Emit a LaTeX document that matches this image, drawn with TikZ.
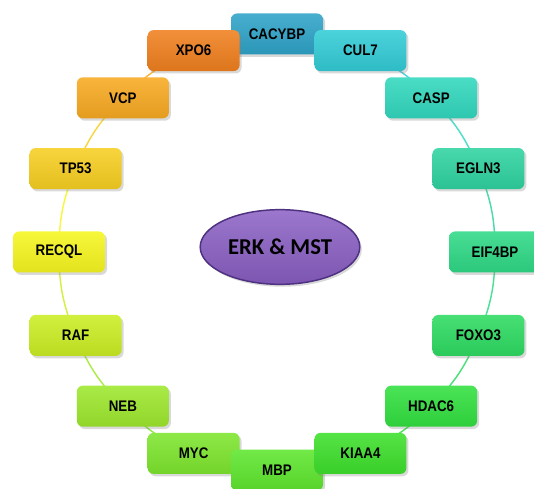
\documentclass[tikz,border=0pt]{standalone}
\usepackage{fontspec}
\setmainfont{Liberation Sans}
\newfontfamily\genefont[FakeStretch=0.87]{Liberation Sans}
\newfontfamily\hubfont{Carlito}
\usetikzlibrary{shapes.geometric,shadows,backgrounds}

\definecolor{cCACYBP}{HTML}{2FA3C8}
\definecolor{cXPO6}{HTML}{F0801F}
\definecolor{cVCP}{HTML}{F8AA22}
\definecolor{cTP53}{HTML}{F7CF22}
\definecolor{cRECQL}{HTML}{F6F620}
\definecolor{cRAF}{HTML}{CBEE24}
\definecolor{cNEB}{HTML}{9EE82E}
\definecolor{cMYC}{HTML}{7EE62E}
\definecolor{cMBP}{HTML}{5EE62E}
\definecolor{cKIAA4}{HTML}{3EE02C}
\definecolor{cHDAC6}{HTML}{32E040}
\definecolor{cFOXO3}{HTML}{2EDB62}
\definecolor{cEIF4BP}{HTML}{2FD986}
\definecolor{cEGLN3}{HTML}{2FD3A0}
\definecolor{cCASP}{HTML}{32D8BE}
\definecolor{cCUL7}{HTML}{33CCD6}
\definecolor{hubfill}{HTML}{8A5FC4}
\definecolor{hubline}{HTML}{4E3180}

\begin{document}
\begin{tikzpicture}[
    x=0.75pt, y=0.75pt,                      % 1 unit = 1 px of the 534x488 frame
    gene/.style={rectangle, rounded corners=4.5pt, minimum width=69pt, minimum height=30.75pt,
      top color=#1!88!white, bottom color=#1!92!black, draw=none,
      drop shadow={shadow xshift=1.5pt, shadow yshift=-1.8pt, opacity=0.3},
      font=\genefont\bfseries\fontsize{11.5}{13}\selectfont},
    hub/.style={ellipse, minimum width=117pt, minimum height=56pt, draw=hubline, line width=1.1pt,
      top color=hubfill!85!white, bottom color=hubfill!90!black,
      drop shadow={shadow xshift=1.5pt, shadow yshift=-1.8pt, opacity=0.3},
      font=\hubfont\bfseries\fontsize{17}{20}\selectfont},
    ring/.style={line width=1.1pt, #1!85!white},
  ]

  \useasboundingbox (0,0) rectangle (534,488);

  \begin{scope}[shift={(277,236)}]
    % ---------- gene boxes, 22.5 deg apart, counter-clockwise from the top ----------
    \foreach \i/\g in {0/CACYBP, 1/XPO6, 2/VCP, 3/TP53, 4/RECQL, 5/RAF, 6/NEB, 7/MYC,
                       8/MBP, 9/KIAA4, 10/HDAC6, 11/FOXO3, 12/EIF4BP, 13/EGLN3, 14/CASP, 15/CUL7}
      \node[gene=c\g] (\g) at ({90+22.5*\i}:218) {\g};

    % ---------- hub ----------
    \node[hub] (hub) at (3,5) {ERK \& MST};

    % ---------- ring segments (behind the boxes) ----------
    \begin{scope}[on background layer]
      \foreach \a/\b in {CACYBP/XPO6, XPO6/VCP, VCP/TP53, TP53/RECQL, RECQL/RAF, RAF/NEB,
                         NEB/MYC, MYC/MBP, MBP/KIAA4, KIAA4/HDAC6, HDAC6/FOXO3, FOXO3/EIF4BP,
                         EIF4BP/EGLN3, EGLN3/CASP, CASP/CUL7, CUL7/CACYBP}
        \draw[ring=c\b] (\a.center) to[bend right=11.25] (\b.center);
    \end{scope}
  \end{scope}

\end{tikzpicture}
\end{document}
